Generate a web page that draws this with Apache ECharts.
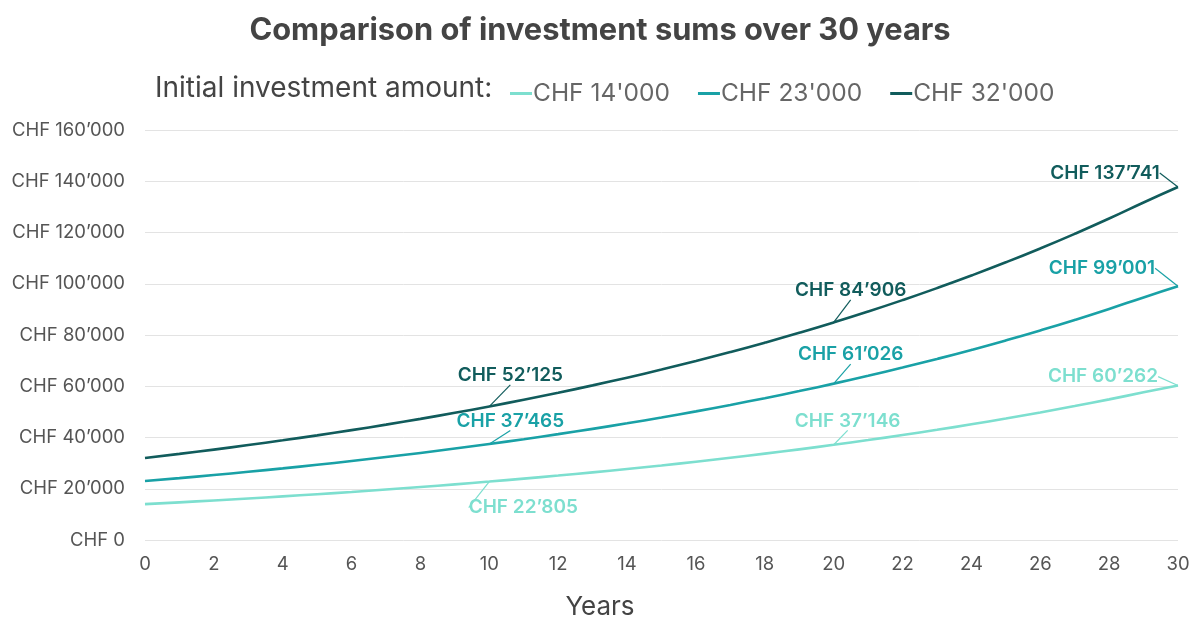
<!DOCTYPE html>
<html>
<head>
<meta charset="utf-8">
<script src="https://cdn.jsdelivr.net/npm/echarts@6/dist/echarts.min.js"></script>
<style>html,body{margin:0;padding:0;background:#fff}#c{width:1200px;height:633px}</style>
</head>
<body>
<div id="c"></div>
<script>
const years = [0,1,2,3,4,5,6,7,8,9,10,11,12,13,14,15,16,17,18,19,20,21,22,23,24,25,26,27,28,29,30];
const seriesNames = ["CHF 14'000", "CHF 23'000", "CHF 32'000"];
const values14 = [14000,14700,15435,16207,17017,17868,18761,19699,20684,21719,22805,23945,25142,26399,27719,29105,30561,32089,33693,35378,37146,39004,40954,43002,45152,47410,49780,52269,54883,57627,60262];
const values23 = [23000,24150,25358,26625,27957,29354,30822,32363,33981,35681,37465,39338,41305,43370,45539,47816,50206,52717,55353,58120,61026,64078,67281,70646,74178,77887,81781,85870,90164,94672,99001];
const values32 = [32000,33600,35280,37044,38896,40841,42883,45027,47279,49643,52125,54731,57468,60341,63358,66526,69852,73345,77012,80863,84906,89151,93609,98289,103204,108364,113782,119471,125445,131717,137741];
const labelledYears = [10, 20, 30];
const colors = ['#7ddfcf', '#19a1a6', '#115c5c'];

function fmt(v) {
  return 'CHF ' + String(Math.round(v)).replace(/\B(?=(\d{3})+(?!\d))/g, '\u2019');
}

// label offsets (dx, dy) per series for years 10, 20, 30
const offsets = [
  [[34, 26], [14, -24], [-75, -9]],
  [[21, -23], [17, -29], [-76, -18]],
  [[21, -31], [17, -32], [-73, -14]]
];

function build(vals, idx) {
  return {
    name: seriesNames[idx],
    type: 'line',
    smooth: true,
    symbol: 'circle',
    symbolSize: 0.1,
    showSymbol: true,
    lineStyle: { width: 2.6, color: colors[idx] },
    itemStyle: { color: colors[idx] },
    emphasis: { disabled: true },
    data: years.map((y, i) => {
      const d = { value: [y, vals[i]] };
      if (labelledYears.indexOf(y) >= 0) {
        d.label = {
          show: true,
          position: 'inside',
          formatter: fmt(vals[i]),
          color: colors[idx],
          fontFamily: 'Inter',
          fontWeight: 600,
          fontSize: 19
        };
      }
      return d;
    }),
    labelLine: { show: true, lineStyle: { color: colors[idx], width: 1.2 } },
    labelLayout: function (p) {
      const k = labelledYears.indexOf(years[p.dataIndex]);
      if (k < 0) return {};
      return { dx: offsets[idx][k][0], dy: offsets[idx][k][1], hideOverlap: false };
    }
  };
}

const chart = echarts.init(document.getElementById('c'));
chart.setOption({
  animation: false,
  color: colors,
  title: {
    text: 'Comparison of investment sums over 30 years',
    left: 'center',
    top: 10,
    textStyle: { fontFamily: 'Inter', fontWeight: 'bold', fontSize: 30.8, color: '#444' }
  },
  graphic: [{
    type: 'text',
    left: 155,
    top: 75,
    style: { text: 'Initial investment amount:', font: '28px Inter', fill: '#444' }
  }, {
    type: 'text',
    left: 'center',
    top: 594,
    style: { text: 'Years', font: '26px Inter', fill: '#444' }
  }],
  legend: {
    left: 505,
    top: 76,
    icon: 'rect',
    itemWidth: 22,
    itemHeight: 3,
    itemGap: 28,
    textStyle: { fontFamily: 'Inter', fontSize: 24.5, color: '#666', padding: [0, 0, 0, -4] },
    data: seriesNames
  },
  grid: { left: 145, right: 22, top: 130, bottom: 93, containLabel: false },
  xAxis: {
    type: 'value',
    min: 0, max: 30, interval: 2,
    axisLine: { show: false },
    axisTick: { show: false },
    splitLine: { show: false },
    axisLabel: { fontFamily: 'Inter', fontSize: 18.5, color: '#555', margin: 15 }
  },
  yAxis: {
    type: 'value',
    min: 0, max: 160000, interval: 20000,
    axisLine: { show: false },
    axisTick: { show: false },
    splitLine: { lineStyle: { color: '#e3e3e3', width: 1 } },
    axisLabel: { fontFamily: 'Inter', fontSize: 18.5, color: '#555', margin: 20, formatter: fmt }
  },
  series: [build(values14, 0), build(values23, 1), build(values32, 2)]
});
</script>
</body>
</html>
